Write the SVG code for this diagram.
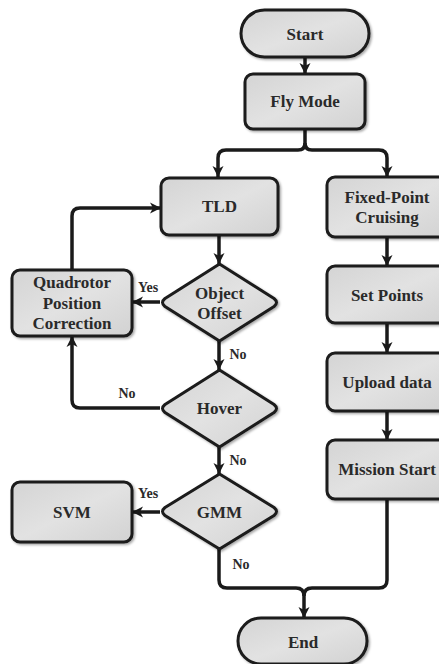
<svg xmlns="http://www.w3.org/2000/svg" width="439" height="664" viewBox="0 0 439 664">
<defs>
<linearGradient id="g" x1="0" y1="0" x2="1" y2="1">
<stop offset="0" stop-color="#d4d4d4"/>
<stop offset="0.5" stop-color="#e2e2e2"/>
<stop offset="1" stop-color="#d2d2d2"/>
</linearGradient>
<marker id="ah" markerUnits="userSpaceOnUse" markerWidth="12" markerHeight="12" refX="11" refY="6" orient="auto">
<path d="M0,0.5 L11,6 L0,11.5 L3,6 Z" fill="#1a1a1a"/>
</marker>
<filter id="sh" x="-10%" y="-10%" width="130%" height="130%">
<feDropShadow dx="1.5" dy="1.5" stdDeviation="1" flood-color="#000" flood-opacity="0.35"/>
</filter>
</defs>
<style>
.n{fill:url(#g);stroke:#1a1a1a;stroke-width:3;stroke-linejoin:round;filter:url(#sh)}
.t{font-family:"Liberation Serif","Times New Roman",serif;font-weight:bold;font-size:17px;fill:#2a2a2a;text-anchor:middle;dominant-baseline:central}
.l{font-family:"Liberation Serif","Times New Roman",serif;font-weight:bold;font-size:14px;fill:#2a2a2a;text-anchor:middle;dominant-baseline:central}
.c{fill:none;stroke:#1a1a1a;stroke-width:3.5;stroke-linejoin:round}
.a{marker-end:url(#ah)}
</style>
<rect width="439" height="664" fill="#fff"/>
<g id="connectors">
<path class="c a" d="M305,57 V74"/>
<path class="c a" d="M305,129 V143 Q305,150 298,150 H226 Q218,150 218,158 V177"/>
<path class="c a" d="M305,143 Q305,150 312,150 H379 Q387,150 387,158 V177"/>
<path class="c a" d="M387,237 V266"/>
<path class="c a" d="M387,323 V353"/>
<path class="c a" d="M387,411 V440"/>
<path class="c a" d="M219,235 V264"/>
<path class="c a" d="M160,302 H132"/>
<path class="c a" d="M72,270 V216 Q72,208 80,208 H161"/>
<path class="c a" d="M219,341 V370"/>
<path class="c a" d="M160,408 H80 Q72,408 72,400 V336"/>
<path class="c a" d="M219,447 V474"/>
<path class="c a" d="M160,512 H132"/>
<path class="c a" d="M219,549 V580 Q219,588 227,588 H296 Q304,588 304,596 V618"/>
<path class="c" d="M387,499 V580 Q387,588 379,588 H312 Q304,588 304,596"/>
<text class="l" x="148" y="287">Yes</text>
<text class="l" x="238" y="354">No</text>
<text class="l" x="127" y="393">No</text>
<text class="l" x="238" y="460">No</text>
<text class="l" x="148" y="493">Yes</text>
<text class="l" x="241" y="564">No</text>
</g>
<g id="start"><rect class="n" x="241" y="10" width="128" height="47" rx="23.5"/><text class="t" x="305" y="34">Start</text></g>
<g id="flymode"><rect class="n" x="245" y="74" width="120" height="55" rx="8"/><text class="t" x="305" y="101">Fly Mode</text></g>
<g id="tld"><rect class="n" x="161" y="178" width="117" height="57" rx="8"/><text class="t" x="219.5" y="206">TLD</text></g>
<g id="fixedpoint"><rect class="n" x="327" y="177" width="122" height="60" rx="8"/><text class="t" x="387" y="197">Fixed-Point</text><text class="t" x="387" y="217">Cruising</text></g>
<g id="setpoints"><rect class="n" x="327" y="266" width="122" height="57" rx="8"/><text class="t" x="387" y="295">Set Points</text></g>
<g id="upload"><rect class="n" x="327" y="353" width="122" height="58" rx="8"/><text class="t" x="387" y="382">Upload data</text></g>
<g id="mission"><rect class="n" x="327" y="440" width="122" height="59" rx="8"/><text class="t" x="387" y="469">Mission Start</text></g>
<g id="objectoffset"><path class="n" d="M219.5,264 L274,298.5 Q279,302.5 274,306.5 L219.5,341 L165,306.5 Q160,302.5 165,298.5 Z"/><text class="t" x="219.5" y="293">Object</text><text class="t" x="219.5" y="313">Offset</text></g>
<g id="quadrotor"><rect class="n" x="12" y="270" width="120" height="66" rx="8"/><text class="t" x="72" y="282">Quadrotor</text><text class="t" x="72" y="303">Position</text><text class="t" x="72" y="323">Correction</text></g>
<g id="hover"><path class="n" d="M219.5,370 L274,404.5 Q279,408.5 274,412.5 L219.5,447 L165,412.5 Q160,408.5 165,404.5 Z"/><text class="t" x="219.5" y="408">Hover</text></g>
<g id="gmm"><path class="n" d="M219.5,474 L274,507.5 Q279,511.5 274,515.5 L219.5,549 L165,515.5 Q160,511.5 165,507.5 Z"/><text class="t" x="219.5" y="512">GMM</text></g>
<g id="svm"><rect class="n" x="12" y="482" width="120" height="60" rx="8"/><text class="t" x="72" y="512">SVM</text></g>
<g id="end"><rect class="n" x="238" y="618" width="129" height="46" rx="23"/><text class="t" x="303" y="642">End</text></g>
</svg>
